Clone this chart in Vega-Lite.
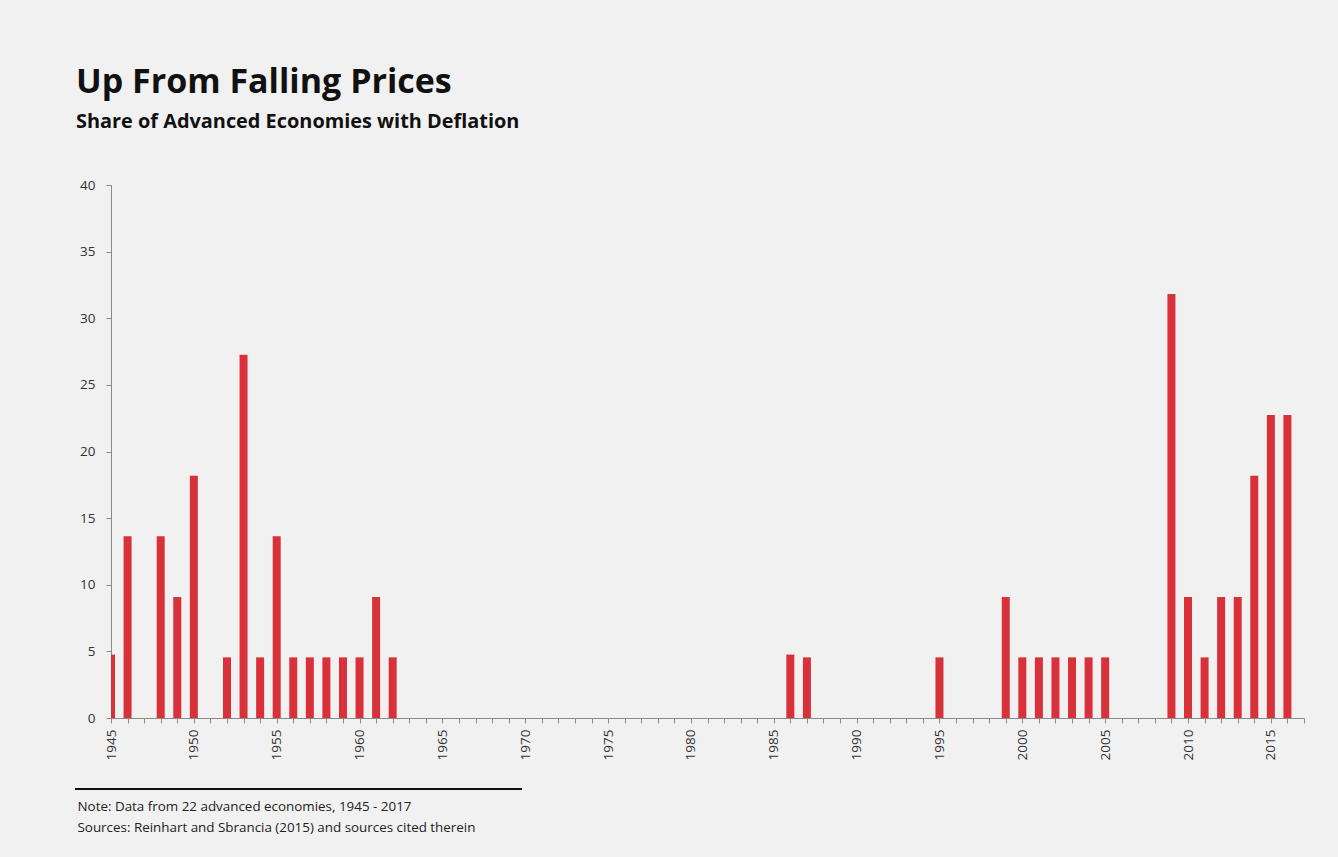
{
  "$schema": "https://vega.github.io/schema/vega-lite/v6.json",
  "autosize": {"type": "none"},
  "padding": {"left": 111, "top": 185, "right": 34, "bottom": 139},
  "width": 1193,
  "height": 533,
  "background": "#f1f1f1",
  "config": {
    "font": "Open Sans",
    "view": {"stroke": null},
    "axis": {"labelFont": "Open Sans", "titleFont": "Open Sans"}
  },
  "title": {
    "text": "Up From Falling Prices",
    "subtitle": "Share of Advanced Economies with Deflation",
    "anchor": "start",
    "frame": "group",
    "dx": -35,
    "offset": 46,
    "font": "Open Sans",
    "fontSize": 34,
    "fontWeight": "bold",
    "color": "#111111",
    "subtitleFont": "Open Sans",
    "subtitleFontSize": 19.9,
    "subtitleFontWeight": "bold",
    "subtitleColor": "#111111",
    "subtitlePadding": 12
  },
  "data": {
    "values": [
      {"year": 1945, "share": 4.76}, {"year": 1946, "share": 13.64}, {"year": 1947, "share": 0},
      {"year": 1948, "share": 13.64}, {"year": 1949, "share": 9.09}, {"year": 1950, "share": 18.18},
      {"year": 1951, "share": 0}, {"year": 1952, "share": 4.55}, {"year": 1953, "share": 27.27},
      {"year": 1954, "share": 4.55}, {"year": 1955, "share": 13.64}, {"year": 1956, "share": 4.55},
      {"year": 1957, "share": 4.55}, {"year": 1958, "share": 4.55}, {"year": 1959, "share": 4.55},
      {"year": 1960, "share": 4.55}, {"year": 1961, "share": 9.09}, {"year": 1962, "share": 4.55},
      {"year": 1963, "share": 0}, {"year": 1964, "share": 0}, {"year": 1965, "share": 0},
      {"year": 1966, "share": 0}, {"year": 1967, "share": 0}, {"year": 1968, "share": 0},
      {"year": 1969, "share": 0}, {"year": 1970, "share": 0}, {"year": 1971, "share": 0},
      {"year": 1972, "share": 0}, {"year": 1973, "share": 0}, {"year": 1974, "share": 0},
      {"year": 1975, "share": 0}, {"year": 1976, "share": 0}, {"year": 1977, "share": 0},
      {"year": 1978, "share": 0}, {"year": 1979, "share": 0}, {"year": 1980, "share": 0},
      {"year": 1981, "share": 0}, {"year": 1982, "share": 0}, {"year": 1983, "share": 0},
      {"year": 1984, "share": 0}, {"year": 1985, "share": 0}, {"year": 1986, "share": 4.76},
      {"year": 1987, "share": 4.55}, {"year": 1988, "share": 0}, {"year": 1989, "share": 0},
      {"year": 1990, "share": 0}, {"year": 1991, "share": 0}, {"year": 1992, "share": 0},
      {"year": 1993, "share": 0}, {"year": 1994, "share": 0}, {"year": 1995, "share": 4.55},
      {"year": 1996, "share": 0}, {"year": 1997, "share": 0}, {"year": 1998, "share": 0},
      {"year": 1999, "share": 9.09}, {"year": 2000, "share": 4.55}, {"year": 2001, "share": 4.55},
      {"year": 2002, "share": 4.55}, {"year": 2003, "share": 4.55}, {"year": 2004, "share": 4.55},
      {"year": 2005, "share": 4.55}, {"year": 2006, "share": 0}, {"year": 2007, "share": 0},
      {"year": 2008, "share": 0}, {"year": 2009, "share": 31.82}, {"year": 2010, "share": 9.09},
      {"year": 2011, "share": 4.55}, {"year": 2012, "share": 9.09}, {"year": 2013, "share": 9.09},
      {"year": 2014, "share": 18.18}, {"year": 2015, "share": 22.73}, {"year": 2016, "share": 22.73}
    ]
  },
  "layer": [
    {
      "mark": {"type": "bar", "color": "#d8313a", "size": 8, "clip": true},
      "encoding": {
        "x": {
          "field": "year",
          "type": "quantitative",
          "scale": {"domain": [1945, 2017], "nice": false, "zero": false, "padding": 0},
          "axis": {
            "values": [1945,1946,1947,1948,1949,1950,1951,1952,1953,1954,1955,1956,1957,1958,1959,1960,1961,1962,1963,1964,1965,1966,1967,1968,1969,1970,1971,1972,1973,1974,1975,1976,1977,1978,1979,1980,1981,1982,1983,1984,1985,1986,1987,1988,1989,1990,1991,1992,1993,1994,1995,1996,1997,1998,1999,2000,2001,2002,2003,2004,2005,2006,2007,2008,2009,2010,2011,2012,2013,2014,2015,2016,2017],
            "tickCount": 200,
            "format": "d",
            "labelExpr": "datum.value % 5 == 0 ? datum.label : ''",
            "labelAngle": -90,
            "labelFontSize": 13.5,
            "labelColor": "#333333",
            "labelPadding": 6,
            "labelFlush": false,
            "labelOverlap": false,
            "labelBound": false,
            "domainColor": "#8a8a8a",
            "tickColor": "#8a8a8a",
            "tickSize": 5,
            "grid": false,
            "title": ["Note: Data from 22 advanced economies, 1945 - 2017", "Sources: Reinhart and Sbrancia (2015) and sources cited therein"],
            "titleAnchor": "start",
            "titleAlign": "left",
            "titleBaseline": "alphabetic",
            "titleX": -34,
            "titleY": 92,
            "titleFontSize": 13.4,
            "titleFontWeight": "normal",
            "titleColor": "#222222",
            "titleLineHeight": 21
          }
        },
        "y": {
          "field": "share",
          "type": "quantitative",
          "scale": {"domain": [0, 40], "nice": false},
          "axis": {
            "values": [0, 5, 10, 15, 20, 25, 30, 35, 40],
            "labelFontSize": 13.5,
            "labelColor": "#333333",
            "labelPadding": 11,
            "domainColor": "#8a8a8a",
            "tickColor": "#8a8a8a",
            "tickSize": 5,
            "grid": false,
            "title": null
          }
        }
      }
    },
    {
      "mark": {"type": "rule", "color": "#111111", "strokeWidth": 1.5, "clip": false},
      "encoding": {
        "x": {"datum": 1942.83, "type": "quantitative"},
        "x2": {"datum": 1969.8},
        "y": {"datum": -5.33, "type": "quantitative"}
      }
    }
  ]
}
